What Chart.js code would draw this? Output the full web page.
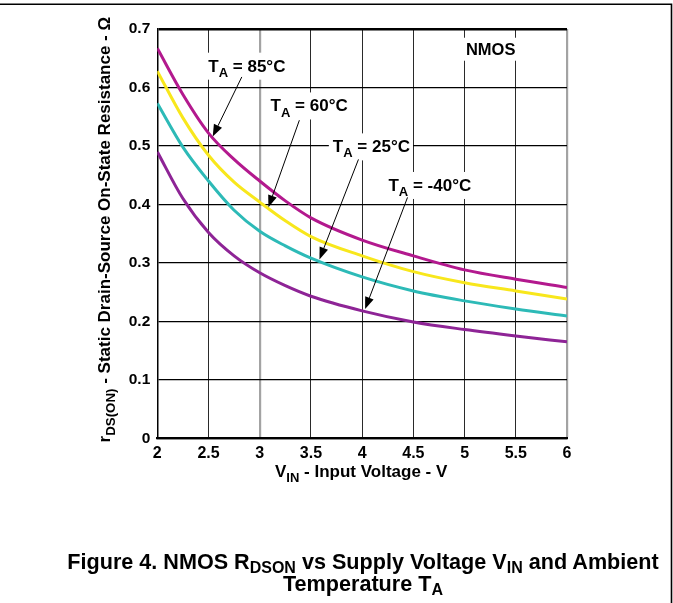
<!DOCTYPE html>
<html><head><meta charset="utf-8">
<script src="https://cdn.jsdelivr.net/npm/chart.js@4"></script>
<style>
html,body{margin:0;padding:0;background:#fff;}
#wrap{position:relative;width:673px;height:603px;overflow:hidden;background:#fff;}
canvas{position:absolute;left:0;top:0;}
#cap{position:absolute;left:33px;width:660px;top:551px;text-align:center;font:bold 21.6px "Liberation Sans",Arial,sans-serif;line-height:22px;color:#000;white-space:nowrap;}
#cap sub{font-size:16px;vertical-align:-4px;line-height:0;}
</style></head><body>
<div id="wrap"><canvas id="c" width="673" height="603"></canvas>
<div id="cap">Figure 4. NMOS R<sub>DSON</sub> vs Supply Voltage V<sub>IN</sub> and Ambient<br>Temperature T<sub>A</sub></div></div>
<script>
// ---- data ----
const VIN   = [2, 2.25, 2.5, 2.75, 3, 3.25, 3.5, 4, 4.5, 5, 5.5, 6];
const R_85  = [0.667, 0.588, 0.522, 0.477, 0.440, 0.406, 0.377, 0.339, 0.312, 0.288, 0.272, 0.258];
const R_60  = [0.628, 0.548, 0.484, 0.438, 0.404, 0.372, 0.345, 0.312, 0.285, 0.266, 0.252, 0.238];
const R_25  = [0.573, 0.498, 0.440, 0.390, 0.354, 0.329, 0.308, 0.276, 0.252, 0.235, 0.221, 0.209];
const R_M40 = [0.490, 0.410, 0.352, 0.312, 0.283, 0.261, 0.243, 0.218, 0.199, 0.186, 0.175, 0.165];
const SERIES_LABELS = ['85°C', '60°C', '25°C', '-40°C'];
const X_TICKS = [2, 2.5, 3, 3.5, 4, 4.5, 5, 5.5, 6];
const Y_TICKS = [0, 0.1, 0.2, 0.3, 0.4, 0.5, 0.6, 0.7];

// ---- styling / annotation layout (data units) ----
const COLORS = ['#B3198E', '#F8E71C', '#2DBAB7', '#8E2496'];
const FONT = '"Liberation Sans", Arial, Helvetica, sans-serif';
const ANNOTS = [
  {temp: '85°C',  text: [2.498, 0.627], from: [2.825, 0.618], tip: [2.541, 0.516]},
  {temp: '60°C',  text: [3.106, 0.559], from: [3.387, 0.544], tip: [3.085, 0.395]},
  {temp: '25°C',  text: [3.714, 0.489], from: [3.964, 0.477], tip: [3.583, 0.306]},
  {temp: '-40°C', text: [4.257, 0.423], from: [4.443, 0.412], tip: [4.029, 0.221]}
];
const NMOS_POS = [5.013, 0.656];

function pts(ys){ return VIN.map((x,i)=>({x:x, y:ys[i]})); }

function rich(ctx, parts, x, y, size, subSize, align){
  let w = 0;
  parts.forEach(p=>{ ctx.font = 'bold '+(p.sub?subSize:size)+'px '+FONT; p.w = ctx.measureText(p.t).width; w += p.w; });
  let cx = align==='center' ? x - w/2 : x;
  ctx.textAlign = 'left';
  ctx.textBaseline = 'alphabetic';
  parts.forEach(p=>{ ctx.font = 'bold '+(p.sub?subSize:size)+'px '+FONT; ctx.fillText(p.t, cx, y + (p.sub ? size*0.3 : 0)); cx += p.w; });
  return w;
}
function measureRich(ctx, parts, size, subSize){
  let w = 0;
  parts.forEach(p=>{ ctx.font = 'bold '+(p.sub?subSize:size)+'px '+FONT; w += ctx.measureText(p.t).width; });
  return w;
}

const decor = {
  id: 'decor',
  afterDatasetsDraw(chart){
    const ctx = chart.ctx, xs = chart.scales.x, ys = chart.scales.y, ca = chart.chartArea;
    ctx.save();
    ctx.fillStyle = '#000'; ctx.strokeStyle = '#000';
    ANNOTS.forEach(a=>{
      const parts = [{t:'T'},{t:'A',sub:true},{t:' = '+a.temp}];
      const tx = xs.getPixelForValue(a.text[0]), ty = ys.getPixelForValue(a.text[1]);
      const w = measureRich(ctx, parts, 17, 13);
      ctx.fillStyle = '#fff';
      ctx.fillRect(tx-4, ty-19, w+7, 27);
      ctx.fillStyle = '#000';
      rich(ctx, parts, tx, ty, 17, 13, 'left');
      const fx = xs.getPixelForValue(a.from[0]), fy = ys.getPixelForValue(a.from[1]);
      const px = xs.getPixelForValue(a.tip[0]), py = ys.getPixelForValue(a.tip[1]);
      const ang = Math.atan2(py-fy, px-fx), L = 12, H = 4.5;
      const bx = px - L*Math.cos(ang), by = py - L*Math.sin(ang);
      ctx.lineWidth = 1;
      ctx.beginPath(); ctx.moveTo(fx, fy); ctx.lineTo(bx, by); ctx.stroke();
      ctx.beginPath();
      ctx.moveTo(px, py);
      ctx.lineTo(bx + H*Math.sin(ang), by - H*Math.cos(ang));
      ctx.lineTo(bx - H*Math.sin(ang), by + H*Math.cos(ang));
      ctx.closePath(); ctx.fill();
    });
    const nx = xs.getPixelForValue(NMOS_POS[0]), ny = ys.getPixelForValue(NMOS_POS[1]);
    ctx.font = 'bold 16.5px '+FONT;
    const nw = ctx.measureText('NMOS').width;
    ctx.fillStyle = '#fff'; ctx.fillRect(nx-3, ny-17, nw+6, 23);
    ctx.fillStyle = '#000'; ctx.textAlign='left'; ctx.textBaseline='alphabetic';
    ctx.fillText('NMOS', nx, ny);
    // x axis title
    const xParts = [{t:'V'},{t:'IN',sub:true},{t:' - Input Voltage - V'}];
    rich(ctx, xParts, (ca.left+ca.right)/2 - 1, ca.bottom + 39, 17, 13, 'center');
    // y axis title (rotated)
    ctx.save();
    ctx.translate(ca.left - 47, (ca.top+ca.bottom)/2 - 4);
    ctx.rotate(-Math.PI/2);
    const yParts = [{t:'r'},{t:'DS(ON)',sub:true},{t:' - Static Drain-Source On-State Resistance - Ω'}];
    rich(ctx, yParts, 0, 0, 17, 13.3, 'center');
    ctx.restore();
    // page frame lines
    ctx.lineWidth = 1.6; ctx.strokeStyle = '#000';
    ctx.beginPath(); ctx.moveTo(0, 4.3); ctx.lineTo(671.5, 4.3); ctx.lineTo(671.5, 603); ctx.stroke();
    ctx.restore();
  }
};

new Chart(document.getElementById('c'), {
  type: 'line',
  data: {
    datasets: [R_85, R_60, R_25, R_M40].map((d,i)=>({
      label: SERIES_LABELS[i], data: pts(d), borderColor: COLORS[i], backgroundColor: COLORS[i],
      borderWidth: 3, pointRadius: 0, fill: false, cubicInterpolationMode: 'monotone'
    }))
  },
  options: {
    responsive: false, animation: false, devicePixelRatio: 1,
    layout: {padding: {top: 29, right: 106, left: 0, bottom: 0}},
    plugins: {legend: {display: false}, tooltip: {enabled: false}, title: {display: false}},
    scales: {
      x: {
        type: 'linear', min: 2, max: 6,
        afterFit(s){ s.height = 603 - 438.3; },
        afterBuildTicks(s){ s.ticks = X_TICKS.map(v=>({value:v})); },
        ticks: {padding: 6, color: '#000', font: {family: FONT, size: 16, weight: 'bold'}, callback: v=>String(v)},
        grid: {drawTicks: false,
          color: c => (c.tick && (c.tick.value===3 || c.tick.value===6)) ? '#a3a3a3' : '#2a2a2a',
          lineWidth: c => (c.tick && (c.tick.value===3 || c.tick.value===6)) ? 2.2 : 1},
        border: {display: true, color: '#000', width: 2.2}
      },
      y: {
        type: 'linear', min: 0, max: 0.7,
        afterFit(s){ s.width = 157.3; },
        afterBuildTicks(s){ s.ticks = Y_TICKS.map(v=>({value:v})); },
        ticks: {padding: 7, color: '#000', font: {family: FONT, size: 15.5, weight: 'bold'}, callback: v=>String(Math.round(v*10)/10)},
        grid: {drawTicks: false, color: '#000',
          lineWidth: c => (c.tick && Math.abs(c.tick.value-0.7)<1e-9) ? 2.5 : 1.2},
        border: {display: true, color: '#000', width: 1.5}
      }
    }
  },
  plugins: [decor]
});
</script>
</body></html>
